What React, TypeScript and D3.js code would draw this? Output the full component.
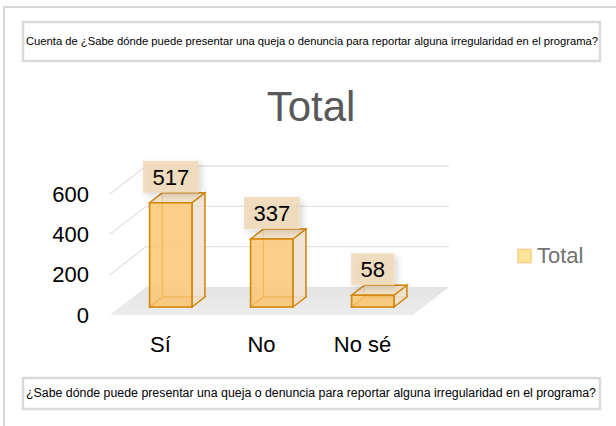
import React from "react";
import * as d3 from "d3";

const categories = ["Sí", "No", "No sé"];
const values = [517, 337, 58];
const yTicks = [0, 200, 400, 600];
const seriesName = "Total";
const topFieldLabel =
  "Cuenta de ¿Sabe dónde puede presentar una queja o denuncia para reportar alguna irregularidad en el programa?";
const bottomFieldLabel =
  "¿Sabe dónde puede presentar una queja o denuncia para reportar alguna irregularidad en el programa?";

const W = 616;
const H = 426;
const FONT = "'Liberation Sans', Arial, sans-serif";

// 3D geometry
const floorFrontY = 315;
const DX = 36;
const DY = -28;
const zFront = 0.286;
const zBack = 0.643;

export default function App() {
  const x = d3.scaleBand<string>().domain(categories).range([110, 413]).padding(0);
  const y = d3.scaleLinear().domain([0, 600]).range([0, 121]);
  const barW = x.step() * 0.42;

  const P = (px: number, v: number, z: number): [number, number] => [
    px + z * DX,
    floorFrontY - y(v) + z * DY,
  ];
  const pts = (arr: [number, number][]) => arr.map((p) => p.join(",")).join(" ");

  const [x0, x1] = x.range();

  const floor = pts([P(x0, 0, 0), P(x1, 0, 0), P(x1, 0, 1), P(x0, 0, 1)]);

  const edge = "#d4890f";

  return (
    <svg
      width={W}
      height={H}
      style={{ position: "absolute", left: 0, top: 0, background: "#fff" }}
      fontFamily={FONT}
    >
      <defs>
        <filter id="lblShadow" x="-30%" y="-30%" width="170%" height="170%">
          <feDropShadow dx="3" dy="3" stdDeviation="3" floodColor="#000" floodOpacity="0.18" />
        </filter>
        <linearGradient id="floorGrad" x1="0" y1="0" x2="0" y2="1">
          <stop offset="0" stopColor="#e4e4e4" />
          <stop offset="1" stopColor="#ececec" />
        </linearGradient>
      </defs>

      {/* outer chart border */}
      <rect x={4} y={7} width={700} height={500} fill="#fff" stroke="#d9d9d9" strokeWidth={2} />

      {/* top field button */}
      <rect x={23} y={22} width={577} height={39} fill="#fff" stroke="#d9d9d9" strokeWidth={2.5} />
      <text
        x={26}
        y={42}
        dominantBaseline="middle"
        fontSize={11}
        fill="#000"
        textLength={572}
        lengthAdjust="spacingAndGlyphs"
      >
        {topFieldLabel}
      </text>

      {/* title */}
      <text x={311} y={121} textAnchor="middle" fontSize={42} fill="#595959">
        {seriesName}
      </text>

      {/* floor */}
      <polygon points={floor} fill="url(#floorGrad)" />

      {/* gridlines: back wall + side wall */}
      {yTicks
        .filter((t) => t > 0)
        .map((t) => {
          const a = P(x0, t, 0);
          const b = P(x0, t, 1);
          const c = P(x1, t, 1);
          return (
            <polyline
              key={t}
              points={pts([a, b, c])}
              fill="none"
              stroke="#e3e3e3"
              strokeWidth={1.3}
            />
          );
        })}

      {/* y axis labels */}
      {yTicks.map((t) => {
        const p = P(x0, t, 0);
        return (
          <text key={t} x={89} y={p[1]} dy="0.35em" textAnchor="end" fontSize={22} fill="#000">
            {t}
          </text>
        );
      })}

      {/* bars */}
      {categories.map((c, i) => {
        const v = values[i];
        const cx = (x(c) as number) + x.step() / 2;
        const l = cx - barW / 2;
        const r = cx + barW / 2;
        const fbl = P(l, 0, zFront);
        const fbr = P(r, 0, zFront);
        const ftl = P(l, v, zFront);
        const ftr = P(r, v, zFront);
        const bbl = P(l, 0, zBack);
        const bbr = P(r, 0, zBack);
        const btl = P(l, v, zBack);
        const btr = P(r, v, zBack);
        return (
          <g key={c}>
            <polygon points={pts([bbl, bbr, btr, btl])} fill="#f6e7d2" fillOpacity={0.5} stroke={edge} strokeWidth={1.2} strokeOpacity={0.85} />
            <polygon points={pts([fbl, bbl, btl, ftl])} fill="#fbd9a4" fillOpacity={0.3} stroke={edge} strokeWidth={1.2} strokeOpacity={0.85} />
            <polygon points={pts([fbl, fbr, bbr, bbl])} fill="#f8c97e" fillOpacity={0.4} stroke={edge} strokeWidth={1.2} strokeOpacity={0.85} />
            <polygon points={pts([fbr, bbr, btr, ftr])} fill="#efe2d1" fillOpacity={0.85} stroke={edge} strokeWidth={1.4} />
            <polygon points={pts([ftl, ftr, btr, btl])} fill="#f2dfc4" fillOpacity={0.85} stroke={edge} strokeWidth={1.4} />
            <polygon points={pts([fbl, fbr, ftr, ftl])} fill="#fbc46e" fillOpacity={0.78} stroke={edge} strokeWidth={1.6} />
          </g>
        );
      })}

      {/* data labels */}
      {categories.map((c, i) => {
        const v = values[i];
        const cx = (x(c) as number) + x.step() / 2 + zFront * DX;
        const topBack = P(0, v, zBack)[1];
        const label = String(v);
        const w = label.length * 12.2 + 19;
        const h = 32;
        return (
          <g key={"l" + c}>
            <rect
              x={cx - w / 2}
              y={topBack - h}
              width={w}
              height={h}
              fill="#f0d8b6"
              fillOpacity={0.85}
              filter="url(#lblShadow)"
            />
            <text x={cx} y={topBack - 8} textAnchor="middle" fontSize={22} fill="#000">
              {label}
            </text>
          </g>
        );
      })}

      {/* category labels */}
      {categories.map((c) => (
        <text
          key={"c" + c}
          x={(x(c) as number) + x.step() / 2}
          y={352}
          textAnchor="middle"
          fontSize={22}
          fill="#000"
        >
          {c}
        </text>
      ))}

      {/* legend */}
      <rect x={518} y={249.5} width={13} height={13} fill="#fee49a" stroke="#fad07c" strokeWidth={1.5} />
      <text x={537} y={263} fontSize={22} fill="#737373">
        {seriesName}
      </text>

      {/* bottom field button */}
      <rect x={23} y={378} width={577} height={31} fill="#fff" stroke="#d9d9d9" strokeWidth={2.5} />
      <text
        x={26}
        y={393.5}
        dominantBaseline="middle"
        fontSize={12}
        fill="#000"
        textLength={570}
        lengthAdjust="spacingAndGlyphs"
      >
        {bottomFieldLabel}
      </text>
    </svg>
  );
}
